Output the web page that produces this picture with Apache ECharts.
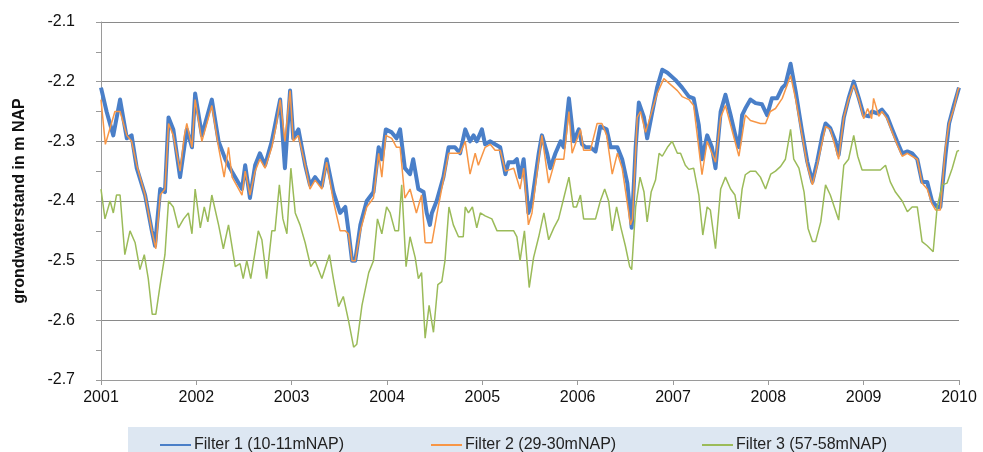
<!DOCTYPE html>
<html>
<head>
<meta charset="utf-8">
<script src="https://cdn.jsdelivr.net/npm/echarts@6/dist/echarts.min.js"></script>
<style>
html,body{margin:0;padding:0;background:#fff;}
#c{width:983px;height:452px;}
</style>
</head>
<body>
<div id="c"></div>
<script>
// time in half-months since 1 Jan 2001, levels in m NAP
const START_YEAR = 2001;
const seriesNames = ['Filter 1 (10-11mNAP)', 'Filter 2 (29-30mNAP)', 'Filter 3 (57-58mNAP)'];
const yearTicks = [2001, 2002, 2003, 2004, 2005, 2006, 2007, 2008, 2009, 2010];

const f1T = [0,1.4,3.1,4.8,6.5,7.7,9,11.1,12.8,13.6,14.9,16.1,17,18.2,19.9,21.6,22.9,23.7,25.4,27.9,
  29.6,31.3,32.9,35.5,36.3,37.5,38.8,40,41.3,43,44.2,45.1,46.3,47.6,48.4,49.7,51.4,52.6,53.9,55.6,
  56.8,58.5,60.2,61.5,62.3,63.2,64,65.3,66.9,68.6,69.9,70.7,71.7,73.2,74.4,75.3,76.5,77.8,78.6,79.9,
  81.2,82,82.8,83.3,84.5,86.2,87.5,89.1,90.4,91.7,92.9,93.8,94.6,95.9,96.7,98,99.2,100.5,101.8,102.6,
  103.9,104.7,105.5,106.4,107.6,108.5,110.2,111,112.3,113.1,114.4,115.7,116.5,117.8,119,120.3,121.1,122,123.2,124.5,
  125.7,127.3,128.3,130,131.2,132.5,133.6,134.6,135.4,136.7,137.5,138.8,140,141.3,142.6,144.6,146.3,148,149.2,150.5,
  151.3,152.6,153.8,154.7,156,157.2,158.5,159.7,160.6,161.4,162.2,163.5,164.8,166.4,167.7,168.9,170.2,171.5,172.3,173.6,
  174.9,176.5,177.8,179.1,180.3,181.6,182.4,183.6,184.9,185.7,187,188.2,189.5,190.8,192,193.3,194.1,195.4,196.6,197.9,
  199.2,200.4,201.7,203,204.2,205.5,206.7,208,209.2,210.5,211.3,212.6,213.5,214.7,215.7,216];
const f1V = [-2.21,-2.25,-2.29,-2.23,-2.295,-2.29,-2.345,-2.39,-2.45,-2.475,-2.38,-2.385,-2.26,-2.28,-2.36,-2.28,-2.31,-2.22,-2.29,-2.23,
  -2.30,-2.33,-2.35,-2.38,-2.34,-2.395,-2.34,-2.32,-2.34,-2.30,-2.26,-2.23,-2.345,-2.215,-2.295,-2.28,-2.34,-2.373,-2.36,-2.375,
  -2.33,-2.385,-2.42,-2.41,-2.45,-2.50,-2.50,-2.44,-2.40,-2.385,-2.31,-2.33,-2.28,-2.285,-2.295,-2.28,-2.345,-2.355,-2.33,-2.38,
  -2.385,-2.42,-2.44,-2.42,-2.40,-2.36,-2.31,-2.31,-2.32,-2.28,-2.30,-2.29,-2.30,-2.28,-2.305,-2.30,-2.305,-2.31,-2.355,-2.335,
  -2.335,-2.33,-2.36,-2.33,-2.42,-2.40,-2.32,-2.29,-2.32,-2.345,-2.32,-2.30,-2.31,-2.228,-2.30,-2.28,-2.305,-2.31,-2.31,-2.317,
  -2.275,-2.28,-2.31,-2.31,-2.33,-2.37,-2.445,-2.31,-2.235,-2.26,-2.295,-2.25,-2.21,-2.18,-2.185,-2.197,-2.21,-2.225,-2.228,-2.273,
  -2.33,-2.29,-2.31,-2.345,-2.25,-2.222,-2.256,-2.29,-2.31,-2.256,-2.245,-2.23,-2.236,-2.238,-2.256,-2.228,-2.228,-2.21,-2.205,-2.17,
  -2.217,-2.284,-2.334,-2.368,-2.334,-2.29,-2.27,-2.278,-2.30,-2.323,-2.26,-2.228,-2.20,-2.228,-2.256,-2.258,-2.25,-2.253,-2.247,-2.258,
  -2.28,-2.30,-2.32,-2.317,-2.32,-2.33,-2.368,-2.368,-2.40,-2.41,-2.41,-2.323,-2.27,-2.24,-2.217,-2.21];

const f2T = [0,1.1,3.5,4.8,6.5,7.7,9,11.1,12.8,13.8,14.9,16.1,17,18.2,19.9,21,21.6,22.9,23.7,25.4,
  27.9,29.6,31,32.1,33,35.5,36.3,37.5,38.8,40,41.3,43,44.2,45.1,46.3,47.6,48.4,49.7,51.4,52.6,
  53.9,55.6,56.8,58.5,60.2,61.5,62.3,63.2,64,65.3,66.9,68.6,69.9,70.7,71.7,73.2,74.4,75.3,76.5,77.8,
  79.4,80.7,81.6,83.3,84.9,87.5,89.1,90.4,91.7,92.9,94.2,95,96.7,98,99.2,100.5,101.8,103.9,105.5,106.4,
  107.6,108.5,110.2,111,112.7,114.4,115.7,116.5,117.8,118.6,120.7,121.5,123.2,124.9,126.1,127.3,128.7,130,131.2,133.3,
  133.8,135,135.8,137.1,140,141.7,145.1,146.3,148,149.2,151.3,152.6,154.7,156,157.2,160.6,162.2,163.5,166,167.3,
  168.5,169.8,171.5,173.6,174.9,176.5,177.8,179.1,180.3,181.6,182.4,183.6,184.9,185.7,187,188.2,189.5,190.8,192,193,
  194,194.5,195.8,196.6,197.9,199.2,200.4,201.7,203,204.2,205.5,206.7,208,209.2,210.1,211.3,212.6,213.5,214.7,215.7,216];
const f2V = [-2.23,-2.305,-2.25,-2.25,-2.29,-2.30,-2.34,-2.39,-2.45,-2.48,-2.39,-2.38,-2.27,-2.29,-2.35,-2.29,-2.27,-2.31,-2.23,-2.30,
  -2.24,-2.31,-2.36,-2.31,-2.36,-2.39,-2.35,-2.39,-2.35,-2.33,-2.345,-2.31,-2.27,-2.23,-2.30,-2.215,-2.30,-2.29,-2.34,-2.38,
  -2.365,-2.38,-2.335,-2.40,-2.45,-2.45,-2.455,-2.50,-2.50,-2.45,-2.41,-2.395,-2.32,-2.36,-2.29,-2.295,-2.31,-2.31,-2.395,-2.38,
  -2.42,-2.39,-2.47,-2.47,-2.41,-2.32,-2.32,-2.32,-2.30,-2.355,-2.32,-2.34,-2.31,-2.305,-2.315,-2.315,-2.35,-2.345,-2.38,-2.345,
  -2.44,-2.42,-2.33,-2.29,-2.37,-2.33,-2.33,-2.33,-2.25,-2.32,-2.28,-2.315,-2.315,-2.27,-2.27,-2.29,-2.355,-2.32,-2.345,-2.44,
  -2.43,-2.26,-2.25,-2.285,-2.22,-2.195,-2.215,-2.225,-2.23,-2.24,-2.356,-2.30,-2.335,-2.26,-2.24,-2.325,-2.256,-2.265,-2.27,-2.27,
  -2.25,-2.245,-2.228,-2.19,-2.23,-2.29,-2.34,-2.373,-2.34,-2.30,-2.275,-2.28,-2.31,-2.33,-2.26,-2.23,-2.205,-2.23,-2.262,-2.245,
  -2.262,-2.228,-2.258,-2.25,-2.262,-2.285,-2.305,-2.325,-2.32,-2.325,-2.33,-2.37,-2.38,-2.405,-2.415,-2.415,-2.31,-2.27,-2.245,-2.215,-2.21];

const f3T = [0,1,2.3,3.1,3.9,4.8,6,7.3,8.6,9.8,10.9,11.9,12.9,13.8,14.9,16.1,17,18.2,19.5,20.8,
  22,22.9,23.7,25,26,26.9,27.9,29.6,30.8,32.1,33.8,35,35.8,36.7,37.7,38.8,39.6,40.5,41.7,43,
  43.8,44.9,45.8,46.8,47.8,48.9,50.1,51.4,52.8,53.9,55.6,57.5,58.5,59.8,61,62.3,63.6,64.4,65.7,67.4,
  68.6,69.6,70.7,71.9,72.8,74,74.9,75.7,76.8,77.8,79.1,79.9,80.7,81.6,82.6,83.7,84.8,85.8,86.6,87.6,
  88.7,90,91.2,91.7,92.5,93.5,94.6,95.5,96.7,98.4,99.7,101.8,103.9,104.7,105.5,106.6,107.8,108.9,110.2,111.5,
  112.7,114,115.2,116.5,117.8,118.9,119.7,120.7,121.5,124.5,125.7,126.8,127.8,128.7,129.8,130.9,132,133.1,133.6,134.6,
  135.7,136.7,137.5,138.5,139.6,140.5,141.3,142.6,143.8,145.1,145.9,147.1,148,149.2,150.5,151.5,152.6,153.4,154.7,156,
  157.2,158.5,159.6,160.6,161.4,162.2,163.5,164.8,166,167.3,168.6,169.8,171.1,172.3,173.6,174.4,175.7,177,178,179.1,
  179.9,181.2,182.4,183.6,185.7,187,188.2,189.5,190.5,191.6,193.7,196.2,197.5,198.7,200,201.7,203,204.2,205.5,206.7,
  208,209.5,210.5,211.8,213,214.3,215.5,216];
const f3V = [-2.38,-2.43,-2.40,-2.42,-2.39,-2.39,-2.49,-2.45,-2.47,-2.515,-2.49,-2.53,-2.59,-2.59,-2.54,-2.49,-2.40,-2.41,-2.445,-2.43,
  -2.42,-2.455,-2.38,-2.445,-2.41,-2.435,-2.39,-2.44,-2.48,-2.44,-2.51,-2.505,-2.53,-2.50,-2.53,-2.485,-2.45,-2.465,-2.53,-2.45,
  -2.45,-2.373,-2.43,-2.455,-2.345,-2.42,-2.44,-2.47,-2.51,-2.50,-2.53,-2.49,-2.53,-2.577,-2.56,-2.60,-2.645,-2.64,-2.575,-2.52,
  -2.50,-2.43,-2.455,-2.41,-2.42,-2.45,-2.45,-2.373,-2.51,-2.46,-2.495,-2.53,-2.52,-2.63,-2.575,-2.62,-2.54,-2.535,-2.50,-2.41,
  -2.44,-2.46,-2.46,-2.41,-2.42,-2.41,-2.445,-2.42,-2.425,-2.43,-2.45,-2.45,-2.45,-2.46,-2.50,-2.45,-2.545,-2.495,-2.46,-2.42,
  -2.465,-2.445,-2.43,-2.395,-2.36,-2.41,-2.41,-2.39,-2.43,-2.43,-2.40,-2.38,-2.40,-2.45,-2.41,-2.445,-2.475,-2.51,-2.515,-2.41,
  -2.36,-2.385,-2.435,-2.385,-2.365,-2.32,-2.325,-2.31,-2.30,-2.32,-2.32,-2.34,-2.347,-2.345,-2.39,-2.457,-2.41,-2.415,-2.48,-2.38,
  -2.36,-2.38,-2.39,-2.43,-2.38,-2.356,-2.35,-2.35,-2.36,-2.38,-2.355,-2.35,-2.342,-2.33,-2.28,-2.33,-2.345,-2.385,-2.446,-2.468,
  -2.468,-2.435,-2.373,-2.39,-2.432,-2.34,-2.33,-2.29,-2.325,-2.348,-2.348,-2.348,-2.34,-2.368,-2.385,-2.40,-2.418,-2.41,-2.41,-2.468,
  -2.475,-2.485,-2.41,-2.373,-2.37,-2.345,-2.317,-2.315];

function toPairs(t, v) {
  return t.map((h, i) => [START_YEAR + h / 24, v[i]]);
}

const chart = echarts.init(document.getElementById('c'), null, {renderer: 'canvas'});
const FONT = 'Liberation Sans';
const legendBase = {
  top: 432, itemWidth: 31, itemHeight: 12,
  itemStyle: {opacity: 0},
  textStyle: {fontSize: 16, color: '#222', fontFamily: FONT, padding: [0, 0, 0, -2]},
  z: 5
};
chart.setOption({
  animation: false,
  backgroundColor: '#ffffff',
  textStyle: {fontFamily: FONT},
  grid: {left: 101, right: 24, top: 22, bottom: 72, containLabel: false},
  graphic: [{
    type: 'rect', z: 0, silent: true,
    shape: {x: 128, y: 427, width: 834, height: 25},
    style: {fill: '#dde7f2'}
  }],
  legend: [
    Object.assign({}, legendBase, {data: [seriesNames[0]], left: 154}),
    Object.assign({}, legendBase, {data: [seriesNames[1]], left: 425}),
    Object.assign({}, legendBase, {data: [seriesNames[2]], left: 696})
  ],
  xAxis: {
    type: 'value', min: yearTicks[0], max: yearTicks[yearTicks.length - 1], interval: 1,
    axisLine: {show: true, lineStyle: {color: '#9a9a9a', width: 1}},
    axisTick: {show: true, length: 5, lineStyle: {color: '#9a9a9a'}},
    axisLabel: {fontSize: 16, color: '#111', margin: 10, formatter: v => String(v), fontFamily: FONT},
    splitLine: {show: false}
  },
  yAxis: {
    type: 'value', min: -2.7, max: -2.1, interval: 0.1,
    name: 'grondwaterstand in m NAP', nameLocation: 'middle', nameGap: 73,
    nameTextStyle: {fontSize: 16, fontWeight: 'bold', color: '#111', fontFamily: FONT},
    axisLine: {show: true, lineStyle: {color: '#9a9a9a', width: 1}},
    axisTick: {show: true, length: 5, lineStyle: {color: '#9a9a9a'}},
    minorTick: {show: true, splitNumber: 2, length: 5, lineStyle: {color: '#9a9a9a'}},
    axisLabel: {fontSize: 16, color: '#111', margin: 26, formatter: v => v.toFixed(1), fontFamily: FONT},
    splitLine: {show: true, lineStyle: {color: '#8a8a8a', width: 1}}
  },
  series: [
    {name: seriesNames[0], type: 'line', data: toPairs(f1T, f1V), showSymbol: false, symbol: 'none',
     lineStyle: {color: '#4a7fc8', width: 4, join: 'round'}, itemStyle: {color: '#4a7fc8'}, z: 2},
    {name: seriesNames[1], type: 'line', data: toPairs(f2T, f2V), showSymbol: false, symbol: 'none',
     lineStyle: {color: '#f79646', width: 1.5}, itemStyle: {color: '#f79646'}, z: 3},
    {name: seriesNames[2], type: 'line', data: toPairs(f3T, f3V), showSymbol: false, symbol: 'none',
     lineStyle: {color: '#9bbb59', width: 1.5}, itemStyle: {color: '#9bbb59'}, z: 4}
  ]
});
</script>
</body>
</html>
